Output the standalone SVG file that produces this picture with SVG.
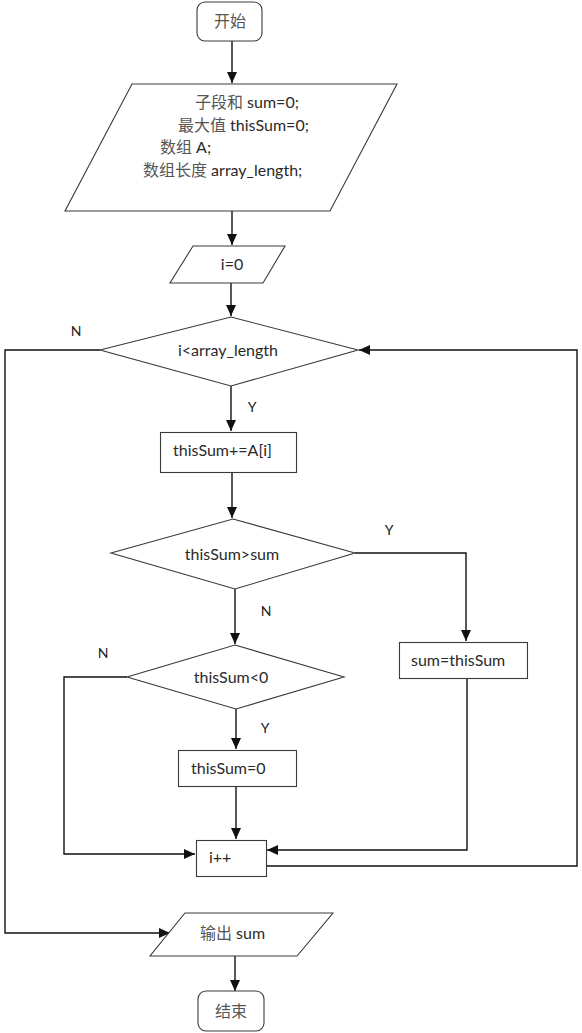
<svg xmlns="http://www.w3.org/2000/svg" width="582" height="1033" viewBox="0 0 582 1033">
<style>
.shape{fill:#fff;stroke:#3a3a3a;stroke-width:1.1}
.t{font-family:Lato,"Open Sans","Noto Sans CJK SC",sans-serif;font-size:16px;fill:#2a2a2a}
.c{font-family:"Noto Sans CJK SC","Noto Sans",sans-serif;font-size:16px;fill:#555}
.lbl{font-family:Lato,"Open Sans",sans-serif;font-size:14px;fill:#222}
.conn path{fill:none;stroke:#111;stroke-width:1.4}
</style>
<defs>
<marker id="arr" markerUnits="userSpaceOnUse" markerWidth="12" markerHeight="10" refX="11" refY="5" orient="auto">
<path d="M0,0 L11,5 L0,10 z" fill="#111"/>
</marker>
</defs>
<rect width="582" height="1033" fill="#fff"/>
<g class="conn">
<path d="M232,41 V83" marker-end="url(#arr)"/>
<path d="M232,211 V245" marker-end="url(#arr)"/>
<path d="M231,283 V316" marker-end="url(#arr)"/>
<path d="M231,386 V431" marker-end="url(#arr)"/>
<path d="M232,473 V518" marker-end="url(#arr)"/>
<path d="M355,553 H466 V641" marker-end="url(#arr)"/>
<path d="M235,589 V644" marker-end="url(#arr)"/>
<path d="M236,709 V749" marker-end="url(#arr)"/>
<path d="M127,677 H64 V854 H195" marker-end="url(#arr)"/>
<path d="M236,786 V839" marker-end="url(#arr)"/>
<path d="M467,679 V850 H267" marker-end="url(#arr)"/>
<path d="M266,866 H577 V350 H359" marker-end="url(#arr)"/>
<path d="M100,350 H5 V933 H170" marker-end="url(#arr)"/>
<path d="M235,956 V991" marker-end="url(#arr)"/>
</g>
<g id="start">
<rect class="shape" x="197" y="2" width="65" height="39" rx="8"/>
<text class="c" x="230" y="27" text-anchor="middle">开始</text>
</g>
<g id="init">
<polygon class="shape" points="132,84 397,84 330,211 65,211"/>
<text class="t" x="195" y="108"><tspan class="c">子段和</tspan> sum=0;</text>
<text class="t" x="178" y="131"><tspan class="c">最大值</tspan> thisSum=0;</text>
<text class="t" x="160" y="153"><tspan class="c">数组</tspan> A;</text>
<text class="t" x="143" y="176"><tspan class="c">数组长度</tspan> array_length;</text>
</g>
<g id="i0">
<polygon class="shape" points="193,246 285,246 263,283 170,283"/>
<text class="t" x="232" y="270" text-anchor="middle">i=0</text>
</g>
<g id="cond1">
<polygon class="shape" points="231,317 358,350 231,386 100,350"/>
<text class="t" x="228" y="356" text-anchor="middle">i&lt;array_length</text>
</g>
<g id="add">
<rect class="shape" x="160.5" y="432.5" width="136" height="40"/>
<text class="t" x="173" y="456">thisSum+=A[i]</text>
</g>
<g id="cond2">
<polygon class="shape" points="233,519 355,553 235,589 111,553"/>
<text class="t" x="232" y="560" text-anchor="middle">thisSum&gt;sum</text>
</g>
<g id="update">
<rect class="shape" x="399.5" y="642.5" width="128" height="36"/>
<text class="t" x="411" y="666">sum=thisSum</text>
</g>
<g id="cond3">
<polygon class="shape" points="235,645 344,677 236,709 127,677"/>
<text class="t" x="231" y="683" text-anchor="middle">thisSum&lt;0</text>
</g>
<g id="reset">
<rect class="shape" x="178.5" y="750.5" width="118" height="36"/>
<text class="t" x="191" y="774">thisSum=0</text>
</g>
<g id="inc">
<rect class="shape" x="196.5" y="840.5" width="70" height="36"/>
<text class="t" x="209" y="863">i++</text>
</g>
<g id="output">
<polygon class="shape" points="185,913 333,913 297,956 150,956"/>
<text class="t" x="200" y="939"><tspan class="c">输出</tspan> sum</text>
</g>
<g id="end">
<rect class="shape" x="198" y="991" width="66" height="40" rx="8"/>
<text class="c" x="231" y="1017" text-anchor="middle">结束</text>
</g>
<g id="labels">
<text class="lbl" x="76" y="336" text-anchor="middle">N</text>
<text class="lbl" x="252" y="412" text-anchor="middle">Y</text>
<text class="lbl" x="389" y="535" text-anchor="middle">Y</text>
<text class="lbl" x="266" y="616" text-anchor="middle">N</text>
<text class="lbl" x="103" y="658" text-anchor="middle">N</text>
<text class="lbl" x="265" y="733" text-anchor="middle">Y</text>
</g>
</svg>
